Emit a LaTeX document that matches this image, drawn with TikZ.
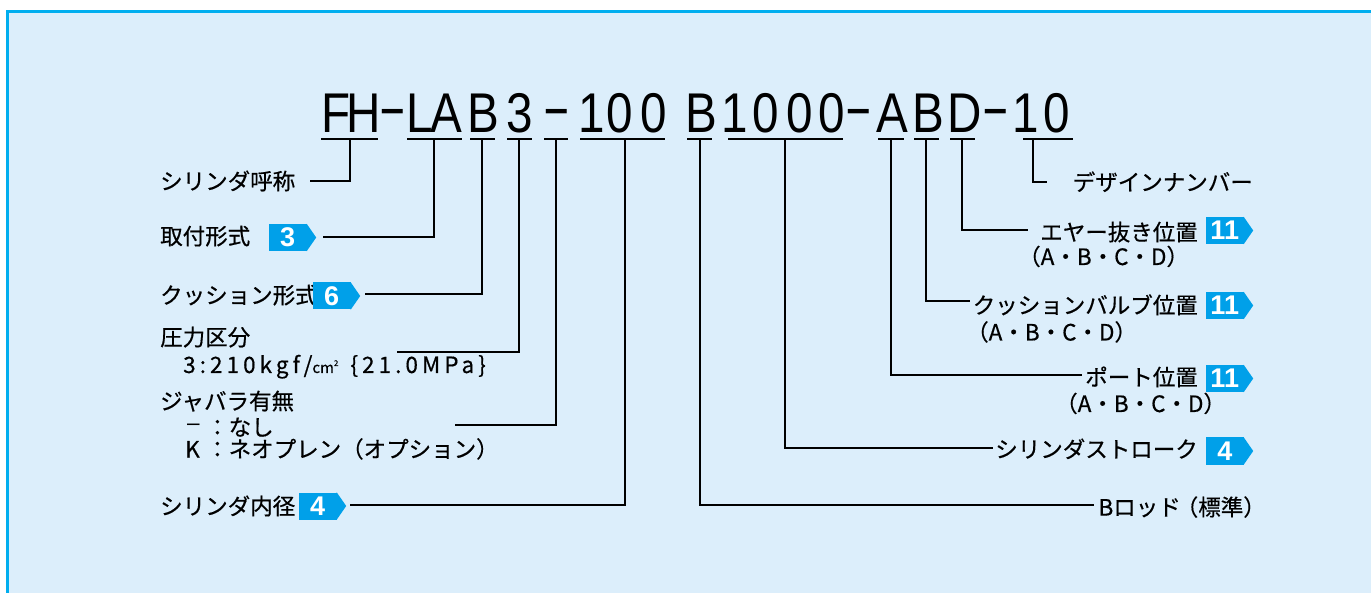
\documentclass[tikz,border=0pt]{standalone}
\usepackage{graphicx}
\usepackage{fontspec}
\setmainfont[FakeBold=0.5]{Noto Sans CJK JP}
\newfontfamily\jplat[LetterSpace=18,FakeBold=0.5]{Noto Sans CJK JP}
\newfontfamily\codefont[FakeStretch=0.85]{Liberation Sans}
\newfontfamily\numfont{Liberation Sans}
\definecolor{bgblue}{RGB}{220,238,251}
\definecolor{framecyan}{RGB}{0,174,239}
\definecolor{badgecyan}{RGB}{0,160,233}
\newcommand{\cdash}{\raisebox{6pt}{\scalebox{1.8}[1]{-}}}
\tikzset{
  lbl/.style={inner sep=0pt, font=\fontsize{22.5}{24}\selectfont},
  codech/.style={anchor=base, inner sep=0pt, font=\codefont\fontsize{56}{60}\selectfont},
  badge/.style={rectangle, fill=badgecyan, draw=none,
    minimum width=37.5pt, minimum height=27pt, inner sep=0pt, text=white,
    font=\numfont\bfseries\fontsize{27}{27}\selectfont},
  badgetip/.style={fill=badgecyan, draw=none},
  uline/.style={line width=2.6pt},
  conn/.style={line width=2.6pt},
}
\begin{document}
\begin{tikzpicture}[x=1pt,y=-1pt]
\useasboundingbox (0,0) rectangle (1371,593);
\clip (0,0) rectangle (1371,593);
\fill[white] (0,0) rectangle (1371,593);
\draw[fill=bgblue, draw=framecyan, line width=2.6pt] (7.3,11.3) rectangle (1390,610);

% code characters
\foreach \ch/\xx [count=\i] in {F/336, H/364, \cdash/392.5, L/419.5, A/446, B/483.5, 3/520, \cdash/556.5,
  1/592, 0/620, 0/653.5, B/701, 1/735, 0/766, 0/800, 0/831.5, \cdash/859, A/892, B/928.5, D/965,
  \cdash/996, 1/1026, 0/1056.5}
  \node[codech] (c\i) at (\xx,133) {\ch};

% underlines
\foreach \a/\b in {321/378, 407/462, 470/495, 507/532, 544/568, 580/665, 687/712, 728/843,
  878/904, 914/939, 950/975, 1023/1073}
  \draw[uline] (\a,139) -- (\b,139);

% tick start coordinates
\coordinate (t1) at (350,139);
\coordinate (t2) at (434,139);
\coordinate (t3) at (482,139);
\coordinate (t4) at (519,139);
\coordinate (t5) at (556,139);
\coordinate (t6) at (625,139);
\coordinate (t7) at (700,139);
\coordinate (t8) at (785,139);
\coordinate (t9) at (891,139);
\coordinate (t10) at (926,139);
\coordinate (t11) at (962,139);
\coordinate (t12) at (1033,139);

% connector ends
\coordinate (e1) at (310,181);
\coordinate (e2) at (323,237);
\coordinate (e3) at (365,294);
\coordinate (e4) at (397,352);
\coordinate (e5) at (455,425);
\coordinate (e6) at (350,505);
\coordinate (e7) at (1094,505);
\coordinate (e8) at (993,448);
\coordinate (e9) at (1082,375);
\coordinate (e10) at (970,301);
\coordinate (e11) at (1028,230);
\coordinate (e12) at (1047,182);

% left labels
\node[lbl, anchor=base west] (lab1) at (160,189.6) {シリンダ呼称};
\node[lbl, anchor=base west] (lab2) at (160,244.6) {取付形式};
\node[badge] (b2) at (287.75,237.5) {3};
\node[lbl, anchor=base west] (lab3) at (160,303.6) {クッション形式};
\node[badge] (b3) at (331.75,296) {6};
\node[lbl, anchor=base west] (lab4) at (160,345.6) {圧力区分};
\node[lbl, anchor=base west] (lab4b) at (183,373) {{\jplat 3:210kgf/}{\fontsize{15}{15}\selectfont cm\raisebox{7pt}{\fontsize{8}{8}\selectfont 2}}\hspace{12pt}{\jplat\{21.0MPa\}}};
\node[lbl, anchor=base west] (lab5) at (160,409.6) {ジャバラ有無};
\node[lbl, anchor=base west] (lab5b) at (187,435.6) {\makebox[19pt][l]{\raisebox{5pt}{\numfont –}}：なし};
\node[lbl, anchor=base west] (lab5c) at (185,457.5) {\makebox[21pt][l]{K}：ネオプレン（オプション）};
\node[lbl, anchor=base west] (lab6) at (160,514.6) {シリンダ内径};
\node[badge] (b6) at (317.75,506) {4};

% right labels
\node[lbl, anchor=base east] (lab7) at (1266,515.6) {Bロッド\hspace{-5pt}（標準）};
\node[lbl, anchor=base east] (lab8) at (1198,457.6) {シリンダストローク};
\node[badge] (b8) at (1224.75,451) {4};
\node[lbl, anchor=base east] (lab9) at (1198,385.6) {ポート位置};
\node[badge] (b9) at (1224.75,378.5) {11};
\node[lbl, anchor=base west] (lab9b) at (1055,412) {（A・B・C・D）};
\node[lbl, anchor=base east] (lab10) at (1198,313.6) {クッションバルブ位置};
\node[badge] (b10) at (1224.75,305.5) {11};
\node[lbl, anchor=base west] (lab10b) at (966,340.5) {（A・B・C・D）};
\node[lbl, anchor=base east] (lab11) at (1198,240.6) {エヤー抜き位置};
\node[badge] (b11) at (1224.75,230.5) {11};
\node[lbl, anchor=base west] (lab11b) at (1018,265) {（A・B・C・D）};
\node[lbl, anchor=base east] (lab12) at (1253,190.6) {デザインナンバー};

% badge pointers
\foreach \bn in {b2,b3,b6,b8,b9,b10,b11}
  \fill[badgetip] (\bn.north east) -- ([xshift=9.5pt]\bn.east) -- (\bn.south east) -- cycle;

% connectors
\foreach \k in {1,...,12}
  \draw[conn] (t\k) |- (e\k);
\end{tikzpicture}
\end{document}
